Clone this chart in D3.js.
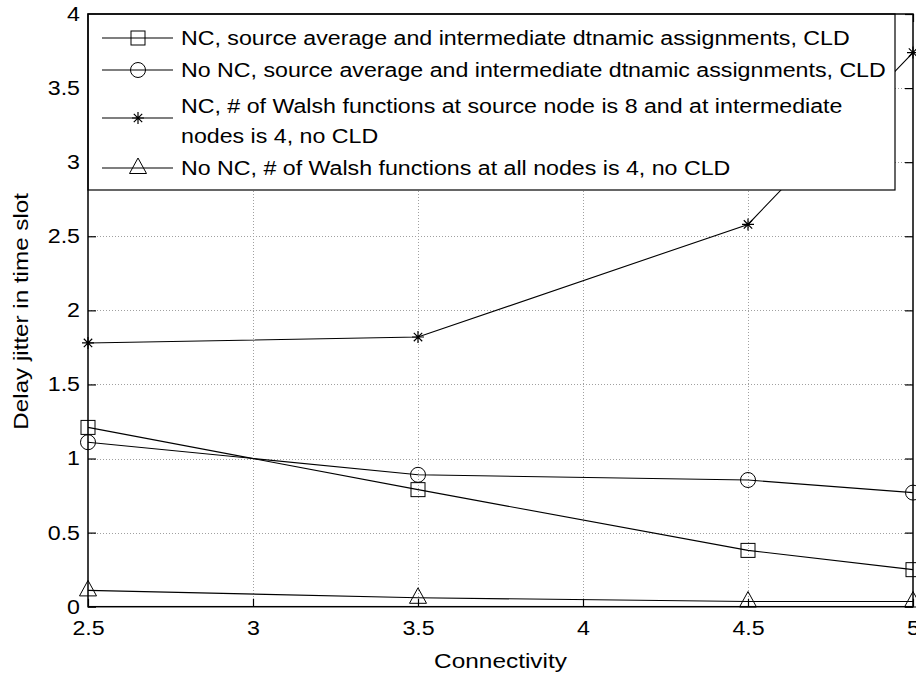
<!DOCTYPE html>
<html>
<head>
<meta charset="utf-8">
<script src="https://cdn.jsdelivr.net/npm/d3@7"></script>
<style>
  html, body { margin: 0; padding: 0; background: #fff; }
  svg { display: block; font-family: "Liberation Sans", Arial, sans-serif; }
</style>
</head>
<body>
<svg id="chart" width="916" height="675"></svg>
<script>
// Connectivity values on the x axis
const connectivity = [2.5, 3.5, 4.5, 5];

// Delay jitter (time slots) for each scheme
const ncDynamic      = [1.21, 0.79, 0.38, 0.25];
const noNcDynamic    = [1.11, 0.89, 0.855, 0.77];
const ncWalsh84      = [1.78, 1.82, 2.58, 3.74];
const noNcWalsh4     = [0.11, 0.06, 0.035, 0.035];

const seriesNames = [
  ["NC, source average and intermediate dtnamic assignments, CLD"],
  ["No NC, source average and intermediate dtnamic assignments, CLD"],
  ["NC, # of Walsh functions at source node is 8 and at intermediate", "nodes is 4, no CLD"],
  ["No NC, # of Walsh functions at all nodes is 4, no CLD"]
];
const seriesMarkers = ["square", "circle", "star", "triangle"];
const seriesValues = [ncDynamic, noNcDynamic, ncWalsh84, noNcWalsh4];

const xTicks = [2.5, 3, 3.5, 4, 4.5, 5];
const yTicks = [0, 0.5, 1, 1.5, 2, 2.5, 3, 3.5, 4];

const svg = d3.select("#chart");
const plotLeft = 88, plotRight = 913, plotTop = 14, plotBottom = 606.7;

const x = d3.scaleLinear().domain([2.5, 5]).range([plotLeft, plotRight]);
const y = d3.scaleLinear().domain([0, 4]).range([plotBottom, plotTop]);

// Wide-set text: widen glyphs along the reading direction
const textWiden = 1.16;

// Dotted grid
const grid = svg.append("g").attr("stroke", "#a0a0a0").attr("stroke-width", 1)
  .attr("stroke-dasharray", "1,2").attr("shape-rendering", "crispEdges");
xTicks.slice(1, -1).forEach(t => {
  grid.append("line").attr("x1", Math.round(x(t)) + 0.5).attr("x2", Math.round(x(t)) + 0.5)
    .attr("y1", plotTop).attr("y2", plotBottom);
});
yTicks.slice(1, -1).forEach(t => {
  grid.append("line").attr("y1", Math.round(y(t)) + 0.5).attr("y2", Math.round(y(t)) + 0.5)
    .attr("x1", plotLeft).attr("x2", plotRight);
});

// Axes with inward ticks, mirrored on the opposite sides
const tickLen = 8;
const xAxis = svg.append("g").attr("transform", `translate(0,${plotBottom})`)
  .call(d3.axisBottom(x).tickValues(xTicks).tickSizeInner(-tickLen).tickSizeOuter(0)
    .tickPadding(14).tickFormat(d3.format("")));
const yAxis = svg.append("g").attr("transform", `translate(${plotLeft},0)`)
  .call(d3.axisLeft(y).tickValues(yTicks).tickSizeInner(-tickLen).tickSizeOuter(0)
    .tickPadding(8).tickFormat(d3.format("")));
const xAxisTop = svg.append("g").attr("transform", `translate(0,${plotTop})`)
  .call(d3.axisTop(x).tickValues(xTicks).tickSizeInner(-tickLen).tickSizeOuter(0).tickFormat(""));
const yAxisRight = svg.append("g").attr("transform", `translate(${plotRight},0)`)
  .call(d3.axisRight(y).tickValues(yTicks).tickSizeInner(-tickLen).tickSizeOuter(0).tickFormat(""));
[xAxis, yAxis, xAxisTop, yAxisRight].forEach(g => {
  g.select(".domain").remove();
  g.selectAll(".tick line").attr("stroke", "#000").attr("stroke-width", 1.2);
  g.selectAll("text").attr("fill", "#000").style("font-size", "20px")
    .style("font-family", "'Liberation Sans', Arial, sans-serif")
    .each(function () {
      const t = d3.select(this);
      const tx = +t.attr("x") || 0;
      t.attr("x", tx / textWiden).attr("transform", `scale(${textWiden},1)`);
    });
});

// Data lines and markers
const lineGen = d3.line().x((d, i) => x(connectivity[i])).y(d => y(d));
const plot = svg.append("g");

function drawMarker(g, type, cx, cy) {
  const m = g.append("g").attr("transform", `translate(${cx},${cy})`)
    .attr("fill", "none").attr("stroke", "#000").attr("stroke-width", 1);
  if (type === "square") {
    m.append("rect").attr("x", -7).attr("y", -7).attr("width", 14).attr("height", 14);
  } else if (type === "circle") {
    m.append("circle").attr("r", 7.5);
  } else if (type === "triangle") {
    m.append("path").attr("d", "M0,-10 L8.5,5.5 L-8.5,5.5 Z");
  } else if (type === "star") {
    const r = 6;
    m.append("path").attr("d",
      `M${-r},0 L${r},0 M0,${-r} L0,${r} M${-r * 0.7},${-r * 0.7} L${r * 0.7},${r * 0.7} M${-r * 0.7},${r * 0.7} L${r * 0.7},${-r * 0.7}`)
      .attr("stroke-width", 1.2);
  }
}

seriesValues.forEach((vals, si) => {
  plot.append("path").datum(vals).attr("d", lineGen)
    .attr("fill", "none").attr("stroke", "#000").attr("stroke-width", 1.1);
  vals.forEach((v, i) => drawMarker(plot, seriesMarkers[si], x(connectivity[i]), y(v)));
});

// Legend
const legend = svg.append("g");
legend.append("rect").attr("x", plotLeft).attr("y", plotTop).attr("width", 895 - plotLeft).attr("height", 190 - plotTop)
  .attr("fill", "#fff").attr("stroke", "#000").attr("stroke-width", 1.2);
const rowY = [38, 70, 118, 168];
const lineBase = [[45], [77], [113, 143], [175]];
seriesNames.forEach((lines, i) => {
  legend.append("line").attr("x1", 102).attr("x2", 173).attr("y1", rowY[i]).attr("y2", rowY[i])
    .attr("stroke", "#000").attr("stroke-width", 1.1);
  drawMarker(legend, seriesMarkers[i], 138, rowY[i]);
  lines.forEach((t, j) => {
    legend.append("text").attr("transform", `translate(181,${lineBase[i][j]}) scale(${textWiden},1)`)
      .style("font-size", "20px").attr("fill", "#000").text(t);
  });
});

// Plot box
svg.append("rect").attr("x", plotLeft).attr("y", plotTop).attr("width", plotRight - plotLeft).attr("height", plotBottom - plotTop)
  .attr("fill", "none").attr("stroke", "#000").attr("stroke-width", 1.5);

// Axis titles
svg.append("text").attr("transform", `translate(${(plotLeft + plotRight) / 2},668) scale(1.22,1)`)
  .attr("text-anchor", "middle").style("font-size", "20px").text("Connectivity");
svg.append("text").attr("transform", `translate(28,${(plotTop + plotBottom) / 2 + 1}) rotate(-90) scale(1.21,1)`)
  .attr("text-anchor", "middle").style("font-size", "20px").text("Delay jitter in time slot");
</script>
</body>
</html>
